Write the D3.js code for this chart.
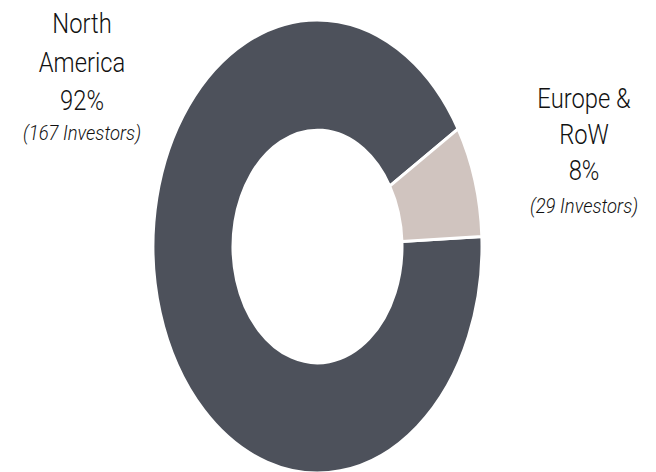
<!DOCTYPE html>
<html lang="en">
<head>
  <meta charset="UTF-8">
  <script src="https://d3js.org/d3.v7.min.js"></script>
  <style>
    body { margin: 0; background: white; }
    .lbl { font-family: Roboto, sans-serif; font-weight: 300; fill: #111; }
  </style>
</head>
<body>
  <div id="chart"></div>
  <script>
    const regions = ["North America", "Europe & RoW"];
    const shares = [92, 8];
    const investors = [167, 29];
    const colors = ["#4d515b", "#d0c4bf"];
    const labelLines = [["North", "America"], ["Europe &", "RoW"]];

    const width = 656, height = 472;
    const cx = 317.5, cy = 246.5;
    const rOuter = 164.5, rInner = 84.5, stretch = 1.377;
    const start = 87.5 * Math.PI / 180;

    const svg = d3.select("#chart").append("svg")
      .attr("width", width).attr("height", height);

    const pie = d3.pie().sort(null).startAngle(start).endAngle(start + 2 * Math.PI);
    const arc = d3.arc().innerRadius(rInner).outerRadius(rOuter);

    svg.append("g")
      .attr("transform", `translate(${cx},${cy}) scale(1,${stretch})`)
      .selectAll("path")
      .data(pie(shares))
      .enter()
      .append("path")
      .attr("d", arc)
      .attr("fill", (d, i) => colors[i])
      .attr("stroke", "white")
      .attr("stroke-width", 3)
      .attr("vector-effect", "non-scaling-stroke");

    // labels
    const labelPos = [
      { x: 82, ys: [33, 72, 110, 140] },
      { x: 584, ys: [108, 144, 180, 213] }
    ];

    regions.forEach((r, i) => {
      const p = labelPos[i];
      const g = svg.append("g").attr("transform", `translate(${p.x},0) scale(0.88,1)`);
      const lines = labelLines[i].concat([shares[i] + "%"]);
      lines.forEach((t, j) => {
        g.append("text").attr("class", "lbl")
          .attr("x", 0).attr("y", p.ys[j])
          .attr("text-anchor", "middle")
          .style("font-size", "27px")
          .text(t);
      });
      g.append("text").attr("class", "lbl")
        .attr("x", 0).attr("y", p.ys[3])
        .attr("text-anchor", "middle")
        .style("font-size", "21px")
        .style("font-style", "italic")
        .text(`(${investors[i]} Investors)`);
    });
  </script>
</body>
</html>
